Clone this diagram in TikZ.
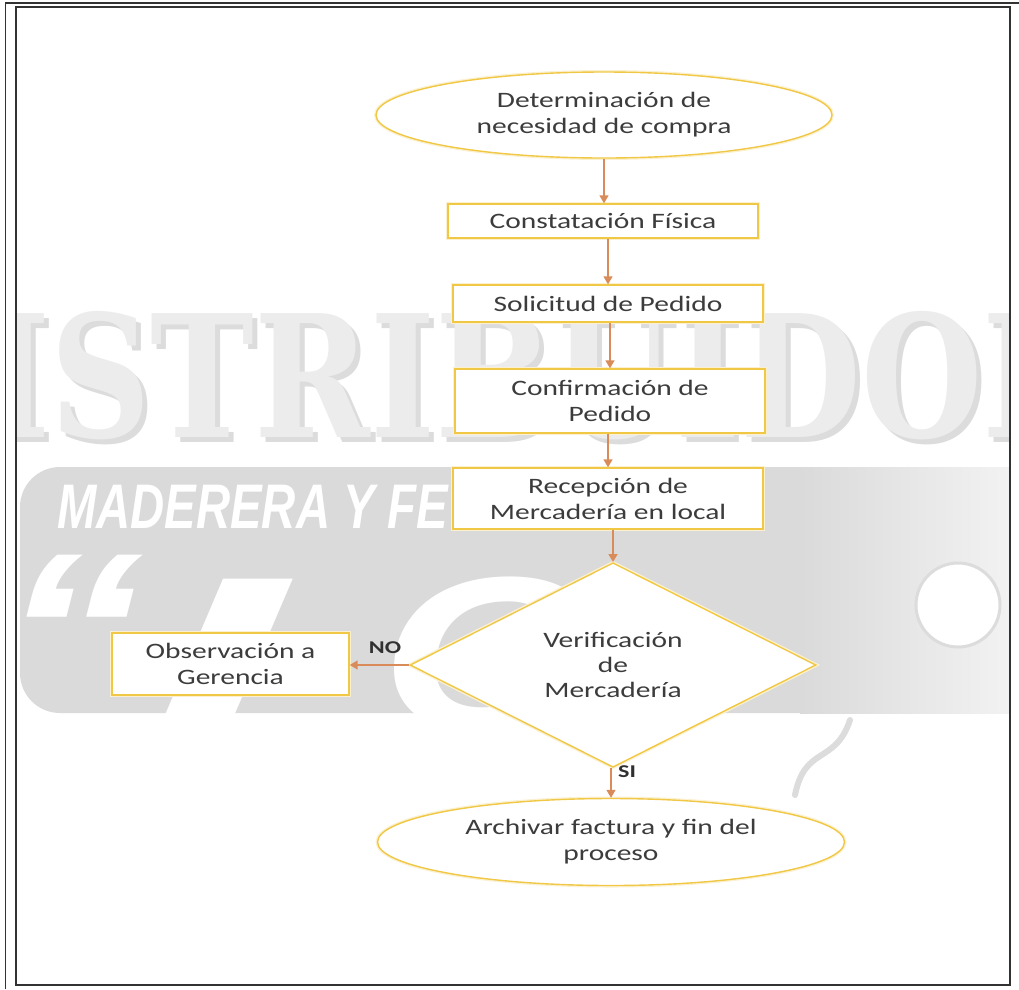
\documentclass[tikz,border=0pt]{standalone}
\usepackage{fontspec}
\usepackage{graphicx}
\usetikzlibrary{shapes.geometric,arrows.meta,calc}
\newfontfamily\flowfont[FakeStretch=1.34]{Carlito}
\newfontfamily\wmserif{DejaVu Serif}
\newfontfamily\wmsans{Liberation Sans}
\definecolor{boxline}{RGB}{240,200,70}
\definecolor{arrowc}{RGB}{217,140,90}
\definecolor{txt}{RGB}{60,60,60}
\definecolor{framec}{RGB}{50,50,50}
\definecolor{bandc}{RGB}{218,218,218}
\definecolor{wmlight}{RGB}{236,236,236}
\definecolor{wmdark}{RGB}{220,220,220}
\tikzset{
  flowbox/.style={draw=boxline, line width=1.4pt, fill=white, rectangle, inner sep=0pt,
    align=center, text=txt, font=\flowfont\fontsize{22}{26}\selectfont,
    preaction={draw=boxline!25, line width=4pt}},
  termellipse/.style={flowbox, ellipse},
  decision/.style={flowbox, diamond},
  flowarrow/.style={draw=arrowc, line width=1.5pt, -{Triangle[width=9pt,length=8pt]}},
  branchlabel/.style={text=txt!80!black, inner sep=0pt, font=\flowfont\bfseries\fontsize{18}{20}\selectfont},
  framerule/.style={draw=framec, line width=2pt}
}
\begin{document}
\begin{tikzpicture}[x=1pt,y=-1pt]
\useasboundingbox (0,0) rectangle (1019,989);
% ---------- watermark ----------
\begin{scope}
\clip (16,7) rectangle (1010,985);
\node[anchor=base west, inner sep=0pt, text=wmdark] (wm1s) at (-131,442)
  {\scalebox{0.82}[1]{\wmserif\bfseries\fontsize{170}{170}\selectfont DISTRIBUIDORA}};
\node[anchor=base west, inner sep=0pt, text=wmlight] (wm1) at (-136,437)
  {\scalebox{0.82}[1]{\wmserif\bfseries\fontsize{170}{170}\selectfont DISTRIBUIDORA}};
\fill[bandc, rounded corners=40pt] (20,467) rectangle (1060,713);
\shade[left color=bandc, right color=bandc!35!white] (800,467) rectangle (1010,713);
\node[anchor=base west, inner sep=0pt, text=white] (wm2) at (57,528)
  {\scalebox{0.75}[1]{\wmsans\bfseries\itshape\fontsize{63}{63}\selectfont MADERERA Y FE}};
\node[anchor=base west, inner sep=0pt, text=white] (wmq) at (0,706)
  {\scalebox{1.3}[1]{\wmsans\bfseries\itshape\fontsize{220}{220}\selectfont “}};
\node[anchor=base west, inner sep=0pt, text=white] (wmi) at (150,730)
  {\scalebox{2.2}[1]{\wmsans\bfseries\itshape\fontsize{220}{220}\selectfont I}};
\node[anchor=base west, inner sep=0pt, text=white] (wmc) at (380,730)
  {\scalebox{1.3}[1]{\wmsans\bfseries\itshape\fontsize{220}{220}\selectfont C}};
\draw[draw=wmdark, line width=3pt, fill=white] (958,605) circle[radius=42pt];
\draw[draw=wmdark, line width=6pt, line cap=round] (795,795) .. controls (805,745) and (835,765) .. (850,720);
\end{scope}
% ---------- frame ----------
\draw[framerule] (16,7) rectangle (1010,985);
\draw[draw=framec, line width=1.6pt] (5.5,989) -- (5.5,3) -- (1019,3);
% ---------- flowchart ----------
\node[termellipse, minimum width=456pt, minimum height=86pt] (e1) at (604,115)
  {Determinación de\\necesidad de compra};
\node[flowbox, minimum width=310pt, minimum height=34pt] (b1) at (603,221)
  {Constatación Física};
\node[flowbox, minimum width=310pt, minimum height=37pt] (b2) at (608,303.5)
  {Solicitud de Pedido};
\node[flowbox, minimum width=310pt, minimum height=64pt] (b3) at (610,401)
  {Confirmación de\\Pedido};
\node[flowbox, minimum width=310pt, minimum height=61pt] (b4) at (608,498.5)
  {Recepción de\\Mercadería en local};
\node[decision, minimum width=406pt, minimum height=180pt] (d) at (613,665)
  {Verificación\\[-1pt]de\\[-1pt]Mercadería};
\node[flowbox, minimum width=237pt, minimum height=62pt] (b5) at (230.5,664)
  {Observación a\\Gerencia};
\node[termellipse, minimum width=467pt, minimum height=87pt] (e2) at (611,842)
  {Archivar factura y fin del\\proceso};
% ---------- connectors ----------
\draw[flowarrow] (e1.south) -- (e1.south |- b1.north);
\draw[flowarrow] (b2.north |- b1.south) -- (b2.north);
\draw[flowarrow] (b3.north |- b2.south) -- (b3.north);
\draw[flowarrow] (b4.north |- b3.south) -- (b4.north);
\draw[flowarrow] (d.north |- b4.south) -- (d.north);
\draw[flowarrow] (d.west) -- (d.west -| b5.east);
\draw[flowarrow] (e2.north |- d.south) -- (e2.north);
\node[branchlabel] (nolbl) at (385,648) {NO};
\node[branchlabel] (silbl) at (627,772) {SI};
\end{tikzpicture}
\end{document}
